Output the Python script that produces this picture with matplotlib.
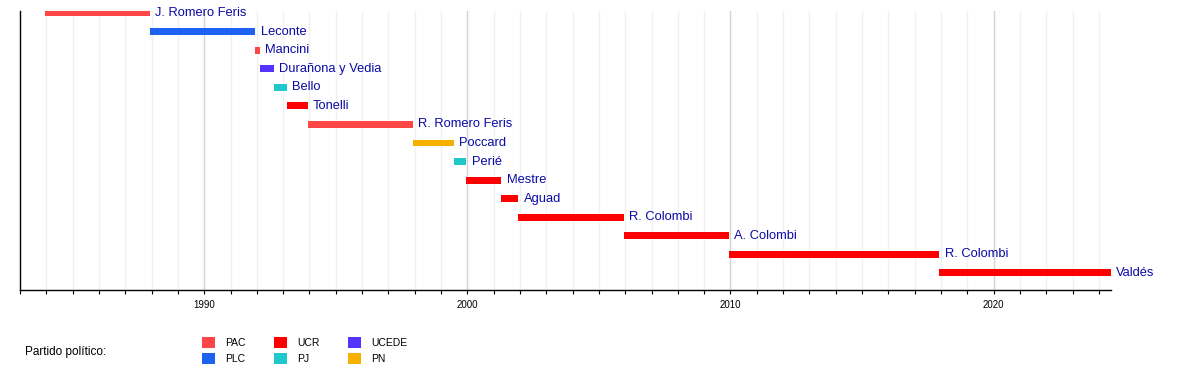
import matplotlib
matplotlib.use("Agg")
import matplotlib.pyplot as plt
from matplotlib.patches import Patch
from matplotlib.ticker import MultipleLocator

plt.rcParams["font.family"] = ["Liberation Sans", "DejaVu Sans"]

# -- data: governors of Corrientes (start / end as decimal years) -----------
names = ["J. Romero Feris", "Leconte", "Mancini", "Durañona y Vedia", "Bello",
         "Tonelli", "R. Romero Feris", "Poccard", "Perié", "Mestre", "Aguad",
         "R. Colombi", "A. Colombi", "R. Colombi", "Valdés"]
starts = [1983.94, 1987.94, 1991.94, 1992.12, 1992.66, 1993.15, 1993.94,
          1997.94, 1999.50, 1999.96, 2001.29, 2001.94, 2005.94, 2009.94, 2017.94]
ends = [1987.94, 1991.94, 1992.12, 1992.66, 1993.15, 1993.94, 1997.94,
        1999.50, 1999.96, 2001.29, 2001.94, 2005.94, 2009.94, 2017.94, 2024.45]
parties = ["PAC", "PLC", "PAC", "UCEDE", "PJ", "UCR", "PAC", "PN", "PJ",
           "UCR", "UCR", "UCR", "UCR", "UCR", "UCR"]

PARTY_COLORS = {
    "PAC":   "#ff4646",
    "PLC":   "#1e62f2",
    "UCR":   "#ff0000",
    "PJ":    "#20c8cc",
    "UCEDE": "#5533ff",
    "PN":    "#f5b000",
}
LEGEND_ORDER = ["PAC", "PLC", "UCR", "PJ", "UCEDE", "PN"]

X0, X1 = 1983.0, 2024.45

fig = plt.figure(figsize=(12, 3.7), dpi=100)
ax = fig.add_axes([20 / 1200, 1 - 290 / 370, (1110.7 - 20) / 1200, 279 / 370])

# background year grid
for yr in range(1984, 2025):
    major = yr % 10 == 0
    ax.axvline(yr, color="#d2d2d2" if major else "#f1f1f1", lw=1.0, zorder=0)

ys = list(range(len(names)))
widths = [e - s for s, e in zip(starts, ends)]
cols = [PARTY_COLORS[p] for p in parties]
ax.barh(ys, widths, left=starts, height=0.37, color=cols, zorder=2)
for y, e, n in zip(ys, ends, names):
    ax.annotate(n, (e, y), xytext=(3.8, 0), textcoords="offset points",
                va="center", ha="left", fontsize=9.3, color="#0a0aa6", zorder=3)

ax.set_xlim(X0, X1)
ax.set_ylim(14.92, -0.11)
ax.set_yticks([])
ax.xaxis.set_major_locator(MultipleLocator(10))
ax.xaxis.set_minor_locator(MultipleLocator(1))
ax.tick_params(axis="x", which="both", direction="out", length=2.6, width=0.8,
               labelsize=7, pad=4.5, colors="black")
ax.spines["top"].set_visible(False)
ax.spines["right"].set_visible(False)
for s in ("left", "bottom"):
    ax.spines[s].set_linewidth(1.0)

# legend
fig.text(25 / 1200, 1 - 352 / 370, "Partido político:", fontsize=8.5,
         va="center", ha="left")
handles = [Patch(facecolor=PARTY_COLORS[p], edgecolor="none", label=p)
           for p in LEGEND_ORDER]
fig.legend(handles=handles, ncol=3, loc="upper left",
           bbox_to_anchor=(202 / 1200, 1 - 337 / 370), frameon=False,
           fontsize=7.5, handlelength=1.2, handleheight=1.25,
           handletextpad=1.05, columnspacing=2.7, labelspacing=0.5,
           borderpad=0, borderaxespad=0)

fig.savefig("out.png", dpi=100)
